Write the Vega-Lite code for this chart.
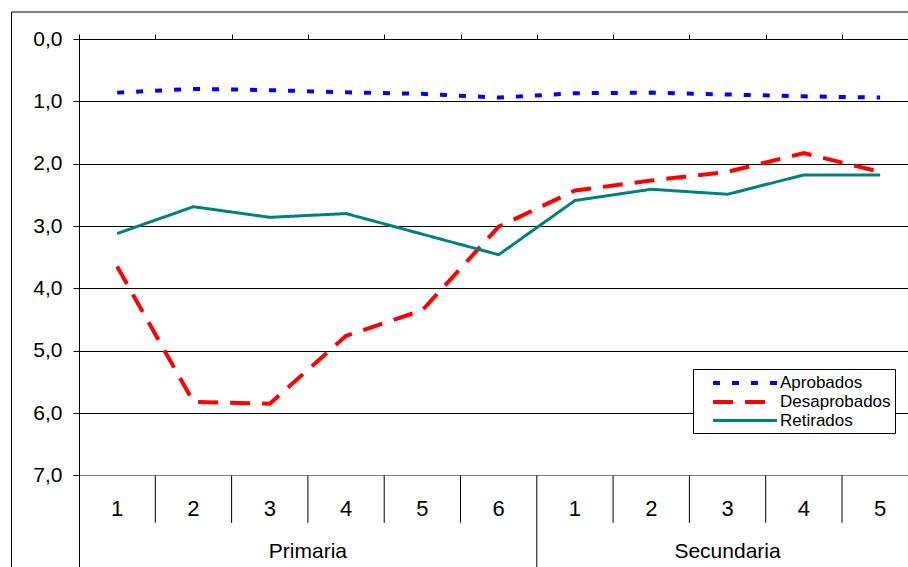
{
  "$schema": "https://vega.github.io/schema/vega-lite/v6.json",
  "width": 829,
  "height": 528,
  "autosize": {"type": "none"},
  "padding": {"left": 79, "top": 39, "right": 0, "bottom": 0},
  "background": "white",
  "config": {"view": {"stroke": null}, "font": "Liberation Sans"},
  "datasets": {
    "series": [
      {"serie": "Aprobados", "nivel": "Primaria", "grado": "1", "orden": 1, "valor": 0.86},
      {"serie": "Aprobados", "nivel": "Primaria", "grado": "2", "orden": 2, "valor": 0.80},
      {"serie": "Aprobados", "nivel": "Primaria", "grado": "3", "orden": 3, "valor": 0.82},
      {"serie": "Aprobados", "nivel": "Primaria", "grado": "4", "orden": 4, "valor": 0.855},
      {"serie": "Aprobados", "nivel": "Primaria", "grado": "5", "orden": 5, "valor": 0.88},
      {"serie": "Aprobados", "nivel": "Primaria", "grado": "6", "orden": 6, "valor": 0.94},
      {"serie": "Aprobados", "nivel": "Secundaria", "grado": "1", "orden": 7, "valor": 0.87},
      {"serie": "Aprobados", "nivel": "Secundaria", "grado": "2", "orden": 8, "valor": 0.86},
      {"serie": "Aprobados", "nivel": "Secundaria", "grado": "3", "orden": 9, "valor": 0.89},
      {"serie": "Aprobados", "nivel": "Secundaria", "grado": "4", "orden": 10, "valor": 0.92},
      {"serie": "Aprobados", "nivel": "Secundaria", "grado": "5", "orden": 11, "valor": 0.94},
      {"serie": "Desaprobados", "nivel": "Primaria", "grado": "1", "orden": 1, "valor": 3.65},
      {"serie": "Desaprobados", "nivel": "Primaria", "grado": "2", "orden": 2, "valor": 5.82},
      {"serie": "Desaprobados", "nivel": "Primaria", "grado": "3", "orden": 3, "valor": 5.85},
      {"serie": "Desaprobados", "nivel": "Primaria", "grado": "4", "orden": 4, "valor": 4.76},
      {"serie": "Desaprobados", "nivel": "Primaria", "grado": "5", "orden": 5, "valor": 4.35},
      {"serie": "Desaprobados", "nivel": "Primaria", "grado": "6", "orden": 6, "valor": 3.01},
      {"serie": "Desaprobados", "nivel": "Secundaria", "grado": "1", "orden": 7, "valor": 2.43},
      {"serie": "Desaprobados", "nivel": "Secundaria", "grado": "2", "orden": 8, "valor": 2.27},
      {"serie": "Desaprobados", "nivel": "Secundaria", "grado": "3", "orden": 9, "valor": 2.13},
      {"serie": "Desaprobados", "nivel": "Secundaria", "grado": "4", "orden": 10, "valor": 1.83},
      {"serie": "Desaprobados", "nivel": "Secundaria", "grado": "5", "orden": 11, "valor": 2.13},
      {"serie": "Retirados", "nivel": "Primaria", "grado": "1", "orden": 1, "valor": 3.12},
      {"serie": "Retirados", "nivel": "Primaria", "grado": "2", "orden": 2, "valor": 2.69},
      {"serie": "Retirados", "nivel": "Primaria", "grado": "3", "orden": 3, "valor": 2.86},
      {"serie": "Retirados", "nivel": "Primaria", "grado": "4", "orden": 4, "valor": 2.80},
      {"serie": "Retirados", "nivel": "Primaria", "grado": "5", "orden": 5, "valor": 3.13},
      {"serie": "Retirados", "nivel": "Primaria", "grado": "6", "orden": 6, "valor": 3.46},
      {"serie": "Retirados", "nivel": "Secundaria", "grado": "1", "orden": 7, "valor": 2.59},
      {"serie": "Retirados", "nivel": "Secundaria", "grado": "2", "orden": 8, "valor": 2.41},
      {"serie": "Retirados", "nivel": "Secundaria", "grado": "3", "orden": 9, "valor": 2.49},
      {"serie": "Retirados", "nivel": "Secundaria", "grado": "4", "orden": 10, "valor": 2.18},
      {"serie": "Retirados", "nivel": "Secundaria", "grado": "5", "orden": 11, "valor": 2.18}
    ],
    "grupos": [
      {"nivel": "Primaria", "centro": 3.5},
      {"nivel": "Secundaria", "centro": 9}
    ],
    "limites": [
      {"limite": 1.5, "tipo": "grado"},
      {"limite": 2.5, "tipo": "grado"},
      {"limite": 3.5, "tipo": "grado"},
      {"limite": 4.5, "tipo": "grado"},
      {"limite": 5.5, "tipo": "grado"},
      {"limite": 6.5, "tipo": "nivel"},
      {"limite": 7.5, "tipo": "grado"},
      {"limite": 8.5, "tipo": "grado"},
      {"limite": 9.5, "tipo": "grado"},
      {"limite": 10.5, "tipo": "grado"}
    ]
  },
  "layer": [
    {
      "data": {"name": "series"},
      "mark": {"type": "line", "clip": true},
      "encoding": {
        "x": {
          "field": "orden",
          "type": "quantitative",
          "scale": {"domain": [0.5, 11.365], "nice": false, "zero": false},
          "axis": {
            "orient": "top",
            "values": [0.5, 1.5, 2.5, 3.5, 4.5, 5.5, 6.5, 7.5, 8.5, 9.5, 10.5],
            "labels": false,
            "ticks": true,
            "tickSize": 5,
            "tickColor": "#000000",
            "domain": true,
            "domainColor": "#000000",
            "grid": false,
            "title": null
          }
        },
        "y": {
          "field": "valor",
          "type": "quantitative",
          "scale": {"domain": [0, 8.468], "reverse": true, "nice": false, "zero": false},
          "axis": {
            "orient": "left",
            "values": [0, 1, 2, 3, 4, 5, 6, 7],
            "labelExpr": "replace(format(datum.value, '.1f'), '.', ',')",
            "labelFontSize": 21,
            "labelColor": "#000000",
            "labelPadding": 11,
            "ticks": true,
            "tickSize": 6,
            "tickColor": "#000000",
            "domain": true,
            "domainColor": "#000000",
            "grid": true,
            "gridColor": {"condition": {"test": "datum.value === 7", "value": "#808080"}, "value": "#000000"},
            "gridOpacity": 1,
            "title": null
          }
        },
        "color": {
          "field": "serie",
          "type": "nominal",
          "scale": {"domain": ["Aprobados", "Desaprobados", "Retirados"], "range": ["#0000FF", "#FF0000", "#008080"]},
          "legend": {
            "title": null,
            "orient": "none",
            "legendX": 614,
            "legendY": 330,
            "fillColor": "white",
            "strokeColor": "#000000",
            "padding": 4,
            "symbolType": "M-4,0H4",
            "symbolSize": 256,
            "symbolStrokeWidth": 4,
            "symbolOffset": 38,
            "labelOffset": 25,
            "labelFontSize": 17,
            "labelColor": "#000000",
            "rowPadding": 1
          }
        },
        "strokeDash": {
          "field": "serie",
          "type": "nominal",
          "scale": {"domain": ["Aprobados", "Desaprobados", "Retirados"], "range": [[7, 12], [20, 12], [1, 0]]},
          "legend": {
            "title": null,
            "orient": "none",
            "legendX": 614,
            "legendY": 330,
            "fillColor": "white",
            "strokeColor": "#000000",
            "padding": 4,
            "symbolType": "M-4,0H4",
            "symbolSize": 256,
            "symbolStrokeWidth": 4,
            "symbolOffset": 38,
            "labelOffset": 25,
            "labelFontSize": 17,
            "labelColor": "#000000",
            "rowPadding": 1
          }
        },
        "strokeWidth": {
          "field": "serie",
          "type": "nominal",
          "scale": {"type": "ordinal", "domain": ["Aprobados", "Desaprobados", "Retirados"], "range": [4, 4, 3]},
          "legend": null
        }
      }
    },
    {
      "data": {"values": [{"marco": "borde"}]},
      "mark": {"type": "rule", "color": "#000000", "strokeWidth": 1, "clip": false},
      "encoding": {
        "x": {"datum": -0.385, "type": "quantitative"},
        "y": {"datum": -0.433, "type": "quantitative"},
        "y2": {"datum": 8.468}
      }
    },
    {
      "data": {"values": [{"marco": "borde"}]},
      "mark": {"type": "rule", "color": "#000000", "strokeWidth": 1, "clip": false},
      "encoding": {
        "x": {"datum": -0.385, "type": "quantitative"},
        "x2": {"datum": 11.365},
        "y": {"datum": -0.433, "type": "quantitative"}
      }
    },
    {
      "data": {"name": "limites"},
      "transform": [{"filter": "datum.tipo === 'grado'"}],
      "mark": {"type": "rule", "color": "#000000", "strokeWidth": 1},
      "encoding": {
        "x": {"field": "limite", "type": "quantitative"},
        "y": {"datum": 7, "type": "quantitative"},
        "y2": {"datum": 7.76}
      }
    },
    {
      "data": {"name": "limites"},
      "transform": [{"filter": "datum.tipo === 'nivel'"}],
      "mark": {"type": "rule", "color": "#000000", "strokeWidth": 1},
      "encoding": {
        "x": {"field": "limite", "type": "quantitative"},
        "y": {"datum": 7, "type": "quantitative"},
        "y2": {"datum": 8.468}
      }
    },
    {
      "data": {"name": "series"},
      "transform": [{"filter": "datum.serie === 'Aprobados'"}],
      "mark": {"type": "text", "fontSize": 22, "color": "#000000", "align": "center", "baseline": "middle"},
      "encoding": {
        "x": {"field": "orden", "type": "quantitative"},
        "y": {"datum": 7.53, "type": "quantitative"},
        "text": {"field": "grado"}
      }
    },
    {
      "data": {"name": "grupos"},
      "mark": {"type": "text", "fontSize": 21, "color": "#000000", "align": "center", "baseline": "middle"},
      "encoding": {
        "x": {"field": "centro", "type": "quantitative"},
        "y": {"datum": 8.22, "type": "quantitative"},
        "text": {"field": "nivel"}
      }
    }
  ]
}
